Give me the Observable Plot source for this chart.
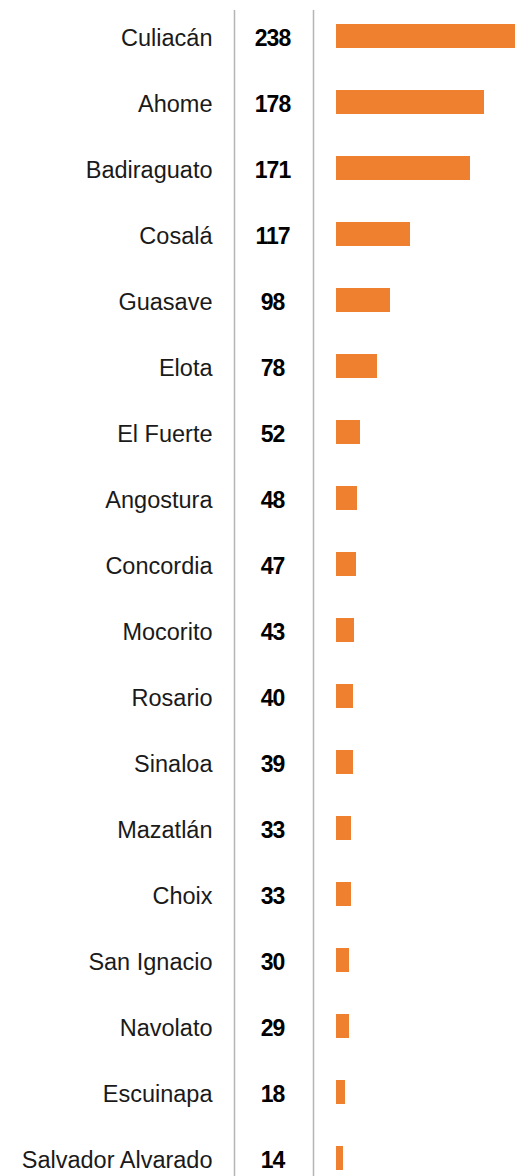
<!DOCTYPE html>
<html>
<head>
<meta charset="utf-8">
<script src="https://cdn.jsdelivr.net/npm/d3@7"></script>
<script src="https://cdn.jsdelivr.net/npm/@observablehq/plot@0.6"></script>
<style>
  html, body { margin: 0; padding: 0; background: #fff; overflow: hidden; }
  #chart svg { overflow: hidden; }
  #chart g[font-weight="bold"] text { letter-spacing: -1px; }
</style>
</head>
<body>
<div id="chart"></div>
<script>
// Municipios (orden del gráfico)
const municipios = ["Culiacán","Ahome","Badiraguato","Cosalá","Guasave","Elota","El Fuerte","Angostura","Concordia","Mocorito","Rosario","Sinaloa","Mazatlán","Choix","San Ignacio","Navolato","Escuinapa","Salvador Alvarado"];
// Cifras rotuladas
const casos = [238,178,171,117,98,78,52,48,47,43,40,39,33,33,30,29,18,14];
// Longitud de barra (misma unidad arbitraria)
const barra = [210,148,134,74,54,41,24,21,20,18,17,17,15,15,13,13,9,7];

const data = municipios.map((m, i) => ({municipio: m, casos: casos[i], barra: barra[i]}));

const font = "'Liberation Sans', Arial, sans-serif";

const chart = Plot.plot({
  width: 515,
  height: 1176,
  marginLeft: 336,
  marginRight: 0,
  marginTop: 21,
  marginBottom: 4,
  style: {fontFamily: font, color: "#111", background: "#fff"},
  x: {domain: [0, 179], axis: null},
  y: {domain: municipios, paddingInner: 0.638, paddingOuter: 0, axis: null},
  marks: [
    Plot.ruleX([0], {dx: -102, insetTop: -11, insetBottom: -4, stroke: "#b5b5b5", strokeWidth: 1.5}),
    Plot.ruleX([0], {dx: -23, insetTop: -11, insetBottom: -4, stroke: "#b5b5b5", strokeWidth: 1.5}),
    Plot.barX(data, {x: "barra", y: "municipio", fill: "#EF8030", clip: true}),
    Plot.axisY({tickSize: 0, tickPadding: 124, label: null, dy: 2, fontSize: 23.5, fill: "#1a1a1a", fontFamily: font}),
    Plot.text(data, {x: 0, y: "municipio", text: d => String(d.casos), dx: -64, dy: 2, textAnchor: "middle", fontSize: 23, fontWeight: "bold", fill: "#000", fontFamily: font})
  ]
});
document.getElementById("chart").appendChild(chart);
</script>
</body>
</html>
